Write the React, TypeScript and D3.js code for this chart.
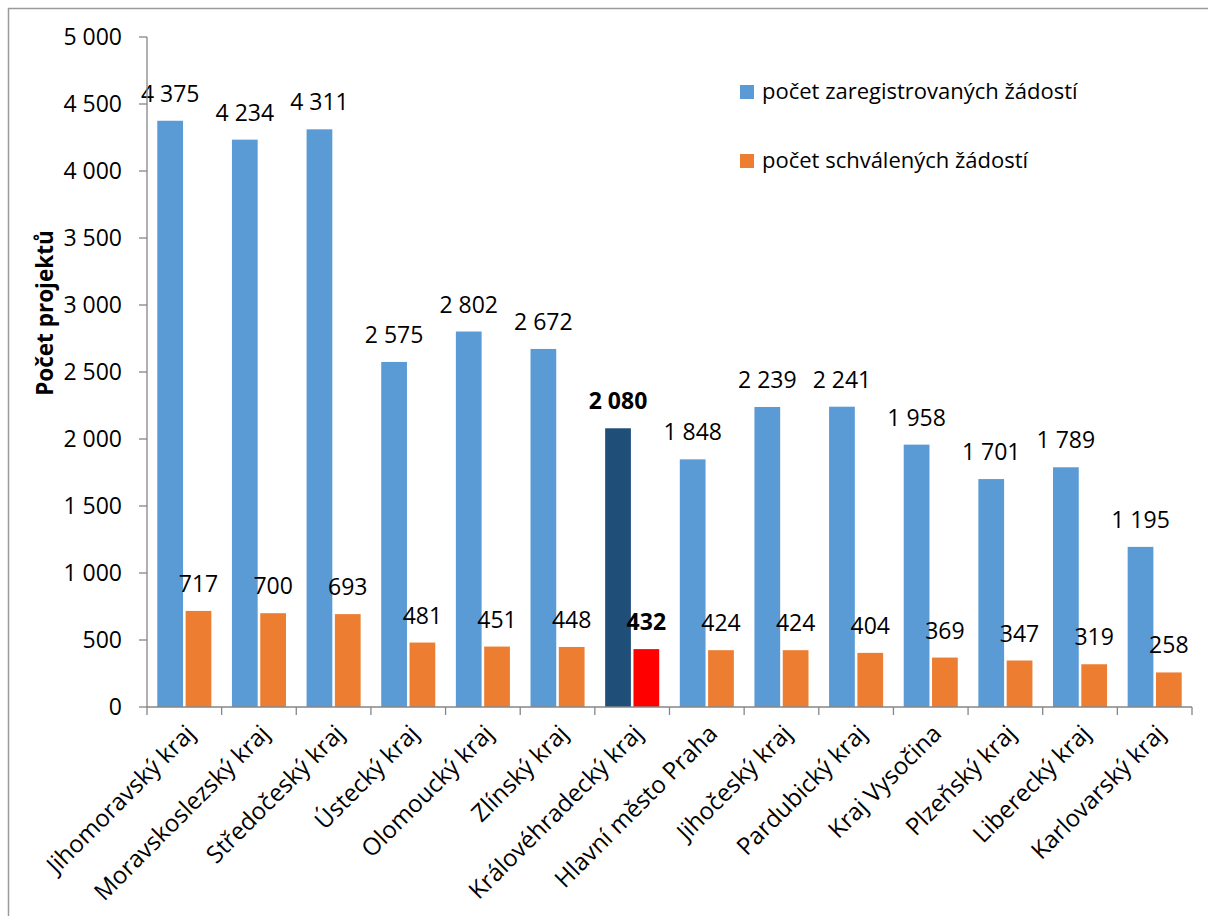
import React from "react";
import * as d3 from "d3";

const categories = [
  "Jihomoravský kraj",
  "Moravskoslezský kraj",
  "Středočeský kraj",
  "Ústecký kraj",
  "Olomoucký kraj",
  "Zlínský kraj",
  "Královéhradecký kraj",
  "Hlavní město Praha",
  "Jihočeský kraj",
  "Pardubický kraj",
  "Kraj Vysočina",
  "Plzeňský kraj",
  "Liberecký kraj",
  "Karlovarský kraj",
];
const registered = [4375, 4234, 4311, 2575, 2802, 2672, 2080, 1848, 2239, 2241, 1958, 1701, 1789, 1195];
const approved = [717, 700, 693, 481, 451, 448, 432, 424, 424, 404, 369, 347, 319, 258];
const highlight = "Královéhradecký kraj";
const seriesNames = ["počet zaregistrovaných žádostí", "počet schválených žádostí"];
const yTicks = [0, 500, 1000, 1500, 2000, 2500, 3000, 3500, 4000, 4500, 5000];
const yTitle = "Počet projektů";

const W = 1208;
const H = 916;
const FONT = "'Open Sans', 'Noto Sans', sans-serif";
const BLUE = "#5B9BD5";
const ORANGE = "#ED7D31";
const DARK = "#1F4E79";
const RED = "#FF0000";

const locale = d3.formatLocale({ decimal: ",", thousands: " ", grouping: [3], currency: ["", ""] });
const fmt = locale.format(",d");

export default function App() {
  const left = 147;
  const right = 1192;
  const top = 37;
  const bottom = 707;
  const x = d3.scaleBand<string>().domain(categories).range([left, right]).paddingInner(0).paddingOuter(0);
  const y = d3.scaleLinear().domain([0, 5000]).range([bottom, top]);
  const step = x.bandwidth();
  const bw = step / 2.9;
  const gap = bw * 0.1;
  const off = bw * 0.4;

  return (
    <svg
      width={W}
      height={H}
      style={{ position: "absolute", left: 0, top: 0, background: "#fff" }}
      fontFamily={FONT}
    >
      <rect x={8.5} y={8.5} width={W + 10} height={H + 10} fill="none" stroke="#9a9a9a" strokeWidth={1.5} />

      {/* bars */}
      {categories.map((c, i) => {
        const x0 = (x(c) as number) + off;
        const x1 = x0 + bw + gap;
        const hi = c === highlight;
        return (
          <g key={c}>
            <rect x={x0} y={y(registered[i])} width={bw} height={bottom - y(registered[i])} fill={hi ? DARK : BLUE} />
            <rect x={x1} y={y(approved[i])} width={bw} height={bottom - y(approved[i])} fill={hi ? RED : ORANGE} />
            <text
              x={x0 + bw / 2}
              y={y(registered[i]) - 19}
              textAnchor="middle"
              fontSize={23}
              fontWeight={hi ? "bold" : "normal"}
              fill="#000"
            >
              {fmt(registered[i])}
            </text>
            <text
              x={x1 + bw / 2}
              y={y(approved[i]) - 19}
              textAnchor="middle"
              fontSize={23}
              fontWeight={hi ? "bold" : "normal"}
              fill="#000"
            >
              {fmt(approved[i])}
            </text>
          </g>
        );
      })}

      {/* y axis */}
      <line x1={left} x2={left} y1={top} y2={bottom} stroke="#868686" strokeWidth={1.3} />
      {yTicks.map((t) => (
        <g key={t}>
          <line x1={left - 8} x2={left} y1={y(t)} y2={y(t)} stroke="#868686" strokeWidth={1.3} />
          <text x={122} y={y(t)} dy="0.36em" textAnchor="end" fontSize={23} fill="#000">
            {fmt(t)}
          </text>
        </g>
      ))}

      {/* x axis */}
      <line x1={left} x2={right} y1={bottom} y2={bottom} stroke="#868686" strokeWidth={1.3} />
      {d3.range(categories.length + 1).map((i) => {
        const xx = left + i * step;
        return <line key={i} x1={xx} x2={xx} y1={bottom} y2={bottom + 8} stroke="#868686" strokeWidth={1.3} />;
      })}
      {categories.map((c) => {
        const cx = (x(c) as number) + step / 2;
        return (
          <text
            key={c}
            transform={`translate(${cx + 6},${bottom + 22}) rotate(-45)`}
            textAnchor="end"
            dy="0.36em"
            fontSize={24}
            fill="#000"
          >
            {c}
          </text>
        );
      })}

      {/* y title */}
      <text
        transform={`translate(53,313) rotate(-90)`}
        textAnchor="middle"
        fontSize={22.5}
        fontWeight="bold"
        fill="#000"
      >
        {yTitle}
      </text>

      {/* legend */}
      {seriesNames.map((s, i) => (
        <g key={s} transform={`translate(740,${85 + i * 69})`}>
          <rect x={0} y={0} width={14} height={14} fill={i === 0 ? BLUE : ORANGE} />
          <text x={22} y={14} fontSize={22} fill="#000">
            {s}
          </text>
        </g>
      ))}
    </svg>
  );
}
